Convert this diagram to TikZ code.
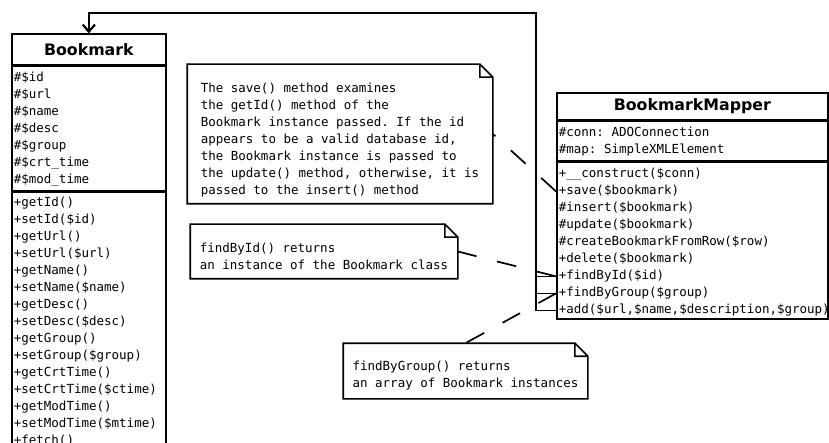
\documentclass[tikz,border=0pt]{standalone}
\usepackage{fontspec}
\setmainfont{DejaVu Sans}
\setmonofont{DejaVu Sans Mono}
\usetikzlibrary{arrows.meta}

\begin{document}
\begin{tikzpicture}[x=1pt, y=-1pt, line width=1.7pt,
    compart/.style={draw, rectangle, inner sep=0pt, anchor=north west},
    classname/.style={font={\bfseries\fontsize{15.8}{18}\selectfont}},
    member/.style={anchor=west, inner sep=0pt, text height=9pt, text depth=3pt,
        font={\ttfamily\fontsize{12.5}{17}\selectfont}},
    note/.style={inner sep=0pt, align=left,
        font={\ttfamily\fontsize{12.5}{17}\selectfont}},
    notelink/.style={dash pattern=on 20pt off 21pt},
    uses/.style={-{Straight Barb[length=7pt,width=12pt]}}]
    \useasboundingbox (0,0) rectangle (829,443);

    % class Bookmark
    \node[compart, minimum width=154pt, minimum height=31pt, classname] (bmTitle) at (11,33) {Bookmark};
    \node[compart, minimum width=154pt, minimum height=124pt] (bmAttr) at (bmTitle.south west) {};
    \node[compart, minimum width=154pt, minimum height=262pt] (bmMeth) at (bmAttr.south west) {};
    \foreach \t [count=\i, evaluate=\i as \yy using 13+(\i-1)*17] in
        {\#\$id, \#\$url, \#\$name, \#\$desc, \#\$group, \#\$crt\_time, \#\$mod\_time}
        \node[member] (bmA\i) at ([xshift=2pt, yshift=-\yy pt]bmAttr.north west) {\t};
    \foreach \t [count=\i, evaluate=\i as \yy using 12+(\i-1)*17] in
        {+getId(), +setId(\$id), +getUrl(), +setUrl(\$url), +getName(), +setName(\$name),
         +getDesc(), +setDesc(\$desc), +getGroup(), +setGroup(\$group), +getCrtTime(),
         +setCrtTime(\$ctime), +getModTime(), +setModTime(\$mtime), +fetch()}
        \node[member] (bmM\i) at ([xshift=2pt, yshift=-\yy pt]bmMeth.north west) {\t};

    % class BookmarkMapper
    \node[compart, minimum width=271pt, minimum height=27pt, classname] (mpTitle) at (556,92) {BookmarkMapper};
    \node[compart, minimum width=271pt, minimum height=39pt] (mpAttr) at (mpTitle.south west) {};
    \node[compart, minimum width=271pt, minimum height=157pt] (mpMeth) at (mpAttr.south west) {};
    \foreach \t [count=\i, evaluate=\i as \yy using 13+(\i-1)*17] in
        {\#conn: ADOConnection, \#map: SimpleXMLElement}
        \node[member] (mpA\i) at ([xshift=2pt, yshift=-\yy pt]mpAttr.north west) {\t};
    \foreach \t [count=\i, evaluate=\i as \yy using 13+(\i-1)*17] in
        {+\_\_construct(\$conn), +save(\$bookmark), \#insert(\$bookmark), \#update(\$bookmark),
         \#createBookmarkFromRow(\$row), +delete(\$bookmark), +findById(\$id),
         +findByGroup(\$group), {+add(\$url,\$name,\$description,\$group)}}
        \node[member] (mpM\i) at ([xshift=2pt, yshift=-\yy pt]mpMeth.north west) {\t};

    % notes (the strut leaves the empty band under the top edge)
    \node[note, minimum width=304pt, minimum height=138pt] (saveNote) at (340,134)
        {\rule{0pt}{21pt}The save() method examines\\the getId() method of the\\Bookmark instance passed. If the id\\appears to be a valid database id,\\the Bookmark instance is passed to\\the update() method, otherwise, it is\\passed to the insert() method};
    \node[note, minimum width=266pt, minimum height=53pt] (idNote) at (324,251.5)
        {\rule{0pt}{20pt}findById() returns\\an instance of the Bookmark class};
    \node[note, minimum width=243pt, minimum height=54pt] (groupNote) at (465.5,371)
        {\rule{0pt}{18pt}findByGroup() returns\\an array of Bookmark instances};
    \foreach \n in {saveNote, idNote, groupNote}
        \draw (\n.north west) -- ([xshift=-13pt]\n.north east) -- ([yshift=-13pt]\n.north east)
              -- (\n.south east) -- (\n.south west) -- cycle
              ([xshift=-13pt]\n.north east) |- ([yshift=-13pt]\n.north east);

    % mapper returns bookmarks
    \foreach \r in {mpM7, mpM8, mpM9}
        \draw[uses] (mpMeth.west |- \r) -- ++(-20,0) |- ([yshift=20pt]bmTitle.north) -- (bmTitle.north);

    % note links
    \draw[notelink] (mpMeth.west |- mpM2) -- (saveNote.east);
    \draw[notelink] (mpMeth.west |- mpM7) -- (idNote.east);
    \draw[notelink] (mpMeth.west |- mpM8) -- (groupNote.north);
\end{tikzpicture}
\end{document}
